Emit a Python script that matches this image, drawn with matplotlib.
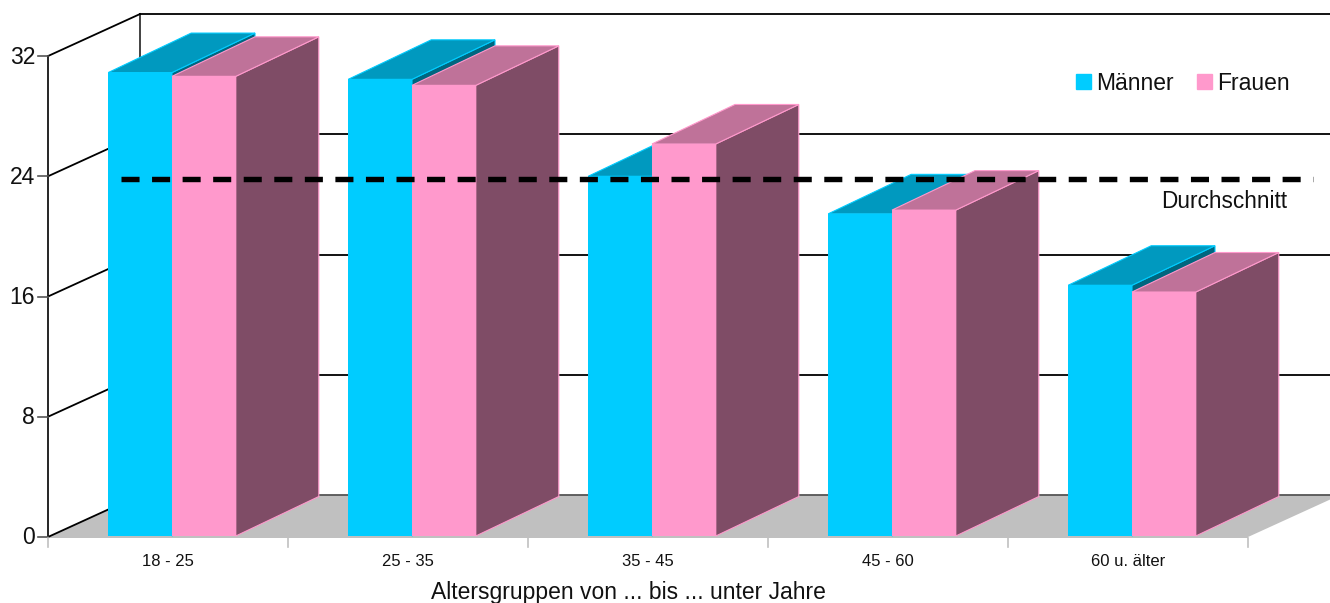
#
# Altersgruppen chart: fake 3D bars, Maenner vs Frauen
#
import matplotlib
matplotlib.use('Agg')
import matplotlib.pyplot as plt
from matplotlib.patches import Patch

groups = ['18 - 25', '25 - 35', '35 - 45', '45 - 60', '60 u. älter']
maenner = [30.9, 30.45, 24.0, 21.5, 16.75]
frauen = [30.65, 30.05, 26.15, 21.75, 16.3]
durchschnitt = 23.8
yticks = [0, 8, 16, 24, 32]

# Set font
matplotlib.rc('font', family=['Liberation Sans', 'DejaVu Sans'])

# pixel scale of the plot
px_x = 240.0
px_y = 15.03

fig = plt.figure(figsize=(13.3, 6.03), dpi=100)
ax = fig.add_axes([0, 0, 1, 1])
ax.set_xlim(-48 / px_x, (1330 - 48) / px_x)
ax.set_ylim(-66 / px_y, 537 / px_y)
ax.axis('off')

# depth of the walls and of the bars
wx, wy = 92 / px_x, 42 / px_y
bx, by = 83 / px_x, 39.5 / px_y
n = len(groups)

# floor
ax.fill([0, wx, n + wx + 1, n + wx, n, 0],
        [0, wy, wy, wy, 0, 0], color='#c0c0c0', lw=0, zorder=1)
ax.fill([0, n, n, 0], [-1 / px_y, -1 / px_y, 0, 0], color='#c0c0c0', lw=0, zorder=1)
ax.plot([wx, n + wx + 1], [wy, wy], color='#555555', lw=1.3, zorder=1.5)

# walls and gridlines
ax.plot([0, 0], [0, 32], color='k', lw=1.2, zorder=2)
ax.plot([wx, wx], [wy, 32 + wy], color='#333333', lw=1.3, zorder=2)
for t in yticks:
    ax.plot([0, wx], [t, t + wy], color='k', lw=1.3, zorder=2)
    ax.plot([-10 / px_x, 0], [t, t], color='#555555', lw=1.2, zorder=2)
    ax.text(-13 / px_x, t - 1 / px_y, str(t), ha='right', va='center', fontsize=16.5,
            color='#111111')
    if t > 0:
        ax.plot([wx, n + 1], [t + wy, t + wy], color='k', lw=1.3, zorder=2)

# category ticks
for i in range(n + 1):
    ax.plot([i, i], [-1 / px_y, -10 / px_y], color='#c0c0c0', lw=1.2, zorder=2)
for i, g in enumerate(groups):
    ax.text(i + 0.5, -25 / px_y, g, ha='center', va='center', fontsize=12, color='#111111')
ax.text(580 / px_x, -55 / px_y, 'Altersgruppen von ... bis ... unter Jahre',
        ha='center', va='center', fontsize=16.5, color='#111111')


def bar3d(x, w, h, front, top, side, z):
    base = 1 / px_y
    ax.fill([x + w, x + w + bx, x + w + bx, x + w],
            [base, base + by, h + by, h], facecolor=side, edgecolor=front, lw=0.8, zorder=z)
    ax.fill([x, x + bx, x + w + bx, x + w],
            [h, h + by, h + by, h], facecolor=top, edgecolor=front, lw=0.8, zorder=z)
    ax.bar(x, h - base, w, bottom=base, align='edge', color=front, lw=0, zorder=z + 0.1)


for i in range(n):
    x = i + 60.2 / px_x
    w = 63.8 / px_x
    bar3d(x, w, maenner[i], '#00ccff', '#0099bf', '#00667f', 3 + i)
    bar3d(x + w, w, frauen[i], '#ff99cc', '#bf7299', '#7f4c66', 3.5 + i)

# average line
ax.plot([73 / px_x, 1265 / px_x], [durchschnitt, durchschnitt], color='k', lw=3.9,
        dashes=(13 / 3.9, 9 / 3.9), dash_capstyle='butt', zorder=20)
ax.text(1176 / px_x, 335 / px_y, 'Durchschnitt', ha='center', va='center',
        fontsize=16.3, color='#111111', zorder=20)

handles = [Patch(color='#00ccff', label='Männer'), Patch(color='#ff99cc', label='Frauen')]
ax.legend(handles=handles, ncol=2, frameon=False, fontsize=16.5, loc='center',
          bbox_to_anchor=(1183 / 1330, 1 - 83 / 603), handlelength=0.65, handleheight=0.65,
          handletextpad=0.25, columnspacing=1.0, labelcolor='#111111')

plt.savefig('out.png', dpi=100)
plt.close()
